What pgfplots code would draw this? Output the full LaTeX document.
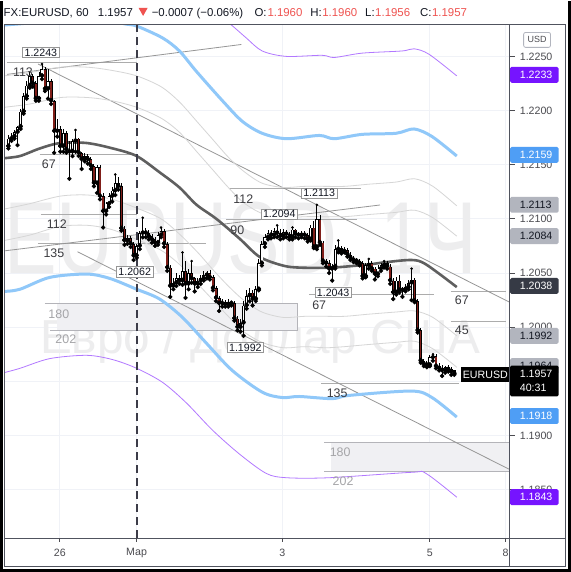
\documentclass[border=0pt]{standalone}
\usepackage{pgfplots}
\pgfplotsset{compat=1.18}
\usepackage{pgfplotstable}
\usepackage{fontspec}
\setmainfont{Liberation Sans}

\definecolor{frame}{RGB}{80,83,94}
\definecolor{gridc}{RGB}{240,242,247}
\definecolor{candred}{RGB}{128,30,25}
\definecolor{bandblue}{RGB}{144,200,249}
\definecolor{boxblue}{RGB}{79,158,245}
\definecolor{bandpurple}{RGB}{178,120,255}
\definecolor{boxpurple}{RGB}{118,20,255}
\definecolor{magrey}{RGB}{95,95,95}
\definecolor{bandgrey}{RGB}{214,214,214}
\definecolor{trendgrey}{RGB}{150,150,150}
\definecolor{levgrey}{RGB}{172,172,172}
\definecolor{zonefill}{RGB}{240,240,243}
\definecolor{zoneline}{RGB}{180,180,185}
\definecolor{dashc}{RGB}{60,60,72}
\definecolor{wmark}{RGB}{237,237,238}
\definecolor{txt}{RGB}{19,23,34}
\definecolor{axtxt}{RGB}{75,75,80}
\definecolor{numc}{RGB}{60,60,64}
\definecolor{zonetxt}{RGB}{165,165,168}
\definecolor{tvred}{RGB}{239,83,80}
\definecolor{lblgrey}{RGB}{178,181,190}
\definecolor{darkbox}{RGB}{54,58,69}

\newcommand\axfont{\fontsize{10.7}{12}\selectfont}
\newcommand\numfont{\fontsize{12.5}{14}\selectfont}
\newcommand\hdfont{\fontsize{11.5}{13}\selectfont}

\tikzset{lbl/.style={draw=trendgrey, fill=white, line width=0.6bp, inner xsep=2bp,
    inner ysep=1.3bp, font=\axfont, text=txt}}

% hourly candles, t = hours from 1 March 00:00
\pgfplotstableread{
t o h l c
-42 1.2167 1.2177 1.2165 1.2174
-41 1.2174 1.2179 1.2172 1.2176
-40 1.2176 1.2182 1.2174 1.2180
-39 1.2180 1.2186 1.2168 1.2185
-38 1.2185 1.2201 1.2183 1.2199
-37 1.2199 1.2216 1.2197 1.2213
-36 1.2213 1.2227 1.2211 1.2223
-35 1.2223 1.2236 1.2221 1.2232
-34 1.2232 1.2234 1.2222 1.2225
-33 1.2225 1.2227 1.2209 1.2211
-32 1.2211 1.2236 1.2209 1.2232
-31 1.2232 1.2243 1.2229 1.2238
-30 1.2238 1.2240 1.2218 1.2220
-29 1.2220 1.2238 1.2211 1.2227
-28 1.2227 1.2229 1.2206 1.2209
-27 1.2209 1.2210 1.2161 1.2181
-26 1.2181 1.2192 1.2176 1.2183
-25 1.2183 1.2186 1.2162 1.2167
-24 1.2167 1.2183 1.2162 1.2179
-23 1.2179 1.2181 1.2161 1.2164
-22 1.2164 1.2172 1.2137 1.2162
-21 1.2162 1.2174 1.2158 1.2172
-20 1.2172 1.2182 1.2162 1.2174
-19 1.2174 1.2175 1.2158 1.2161
-18 1.2161 1.2162 1.2146 1.2155
-17 1.2155 1.2161 1.2153 1.2158
-16 1.2158 1.2160 1.2151 1.2155
-15 1.2155 1.2157 1.2146 1.2149
-14 1.2149 1.2151 1.2130 1.2133
-13 1.2133 1.2150 1.2124 1.2148
-12 1.2148 1.2150 1.2118 1.2121
-11 1.2121 1.2124 1.2092 1.2107
-10 1.2107 1.2116 1.2104 1.2114
-9 1.2114 1.2124 1.2111 1.2121
-8 1.2121 1.2129 1.2116 1.2126
-7 1.2126 1.2141 1.2122 1.2133
-6 1.2133 1.2139 1.2127 1.2130
-5 1.2130 1.2133 1.2089 1.2091
-4 1.2091 1.2093 1.2076 1.2080
-3 1.2080 1.2085 1.2077 1.2082
-2 1.2082 1.2084 1.2074 1.2077
-1 1.2077 1.2079 1.2062 1.2066
0 1.2066 1.2077 1.2064 1.2075
1 1.2075 1.2089 1.2072 1.2087
2 1.2087 1.2101 1.2083 1.2089
3 1.2089 1.2092 1.2083 1.2087
4 1.2087 1.2090 1.2081 1.2084
5 1.2084 1.2086 1.2078 1.2081
6 1.2081 1.2083 1.2075 1.2078
7 1.2078 1.2088 1.2076 1.2085
8 1.2085 1.2092 1.2083 1.2089
9 1.2089 1.2091 1.2074 1.2077
10 1.2077 1.2079 1.2052 1.2055
11 1.2055 1.2057 1.2028 1.2038
12 1.2038 1.2045 1.2035 1.2041
13 1.2041 1.2050 1.2038 1.2045
14 1.2045 1.2048 1.2040 1.2043
15 1.2043 1.2069 1.2039 1.2052
16 1.2052 1.2061 1.2027 1.2040
17 1.2040 1.2054 1.2035 1.2050
18 1.2050 1.2061 1.2041 1.2045
19 1.2045 1.2046 1.2033 1.2040
20 1.2040 1.2045 1.2037 1.2043
21 1.2043 1.2048 1.2040 1.2045
22 1.2045 1.2052 1.2043 1.2048
23 1.2048 1.2052 1.2045 1.2050
24 1.2050 1.2053 1.2044 1.2046
25 1.2046 1.2048 1.2034 1.2036
26 1.2036 1.2038 1.2024 1.2027
27 1.2027 1.2029 1.2015 1.2022
28 1.2022 1.2026 1.2019 1.2023
29 1.2023 1.2025 1.2019 1.2021
30 1.2021 1.2026 1.2019 1.2023
31 1.2023 1.2024 1.2020 1.2022
32 1.2022 1.2024 1.2006 1.2008
33 1.2008 1.2010 1.1997 1.2000
34 1.2000 1.2008 1.1996 1.2004
35 1.2004 1.2024 1.1992 1.2020
36 1.2020 1.2034 1.2017 1.2029
37 1.2029 1.2036 1.2024 1.2032
38 1.2032 1.2034 1.2020 1.2026
39 1.2026 1.2038 1.2024 1.2035
40 1.2035 1.2063 1.2034 1.2059
41 1.2059 1.2080 1.2057 1.2077
42 1.2077 1.2086 1.2074 1.2083
43 1.2083 1.2090 1.2081 1.2087
44 1.2087 1.2090 1.2082 1.2085
45 1.2085 1.2092 1.2083 1.2089
46 1.2089 1.2094 1.2083 1.2087
47 1.2087 1.2091 1.2081 1.2084
48 1.2084 1.2091 1.2082 1.2088
49 1.2088 1.2090 1.2083 1.2086
50 1.2086 1.2088 1.2081 1.2083
51 1.2083 1.2092 1.2081 1.2090
52 1.2090 1.2091 1.2083 1.2086
53 1.2086 1.2088 1.2082 1.2085
54 1.2085 1.2089 1.2083 1.2087
55 1.2087 1.2089 1.2082 1.2085
56 1.2085 1.2087 1.2079 1.2081
57 1.2081 1.2094 1.2080 1.2092
58 1.2092 1.2098 1.2073 1.2074
59 1.2074 1.2113 1.2072 1.2100
60 1.2100 1.2104 1.2076 1.2078
61 1.2078 1.2080 1.2059 1.2061
62 1.2061 1.2063 1.2056 1.2059
63 1.2059 1.2062 1.2050 1.2054
64 1.2054 1.2058 1.2043 1.2056
65 1.2056 1.2076 1.2054 1.2072
66 1.2072 1.2080 1.2069 1.2073
67 1.2073 1.2075 1.2068 1.2070
68 1.2070 1.2074 1.2069 1.2071
69 1.2071 1.2073 1.2065 1.2067
70 1.2067 1.2069 1.2062 1.2064
71 1.2064 1.2066 1.2060 1.2062
72 1.2062 1.2064 1.2059 1.2061
73 1.2061 1.2063 1.2057 1.2059
74 1.2059 1.2061 1.2045 1.2047
75 1.2047 1.2059 1.2046 1.2057
76 1.2057 1.2063 1.2054 1.2059
77 1.2059 1.2061 1.2052 1.2054
78 1.2054 1.2056 1.2044 1.2049
79 1.2049 1.2057 1.2047 1.2054
80 1.2054 1.2059 1.2052 1.2057
81 1.2057 1.2061 1.2055 1.2059
82 1.2059 1.2061 1.2054 1.2056
83 1.2056 1.2058 1.2040 1.2043
84 1.2043 1.2045 1.2026 1.2032
85 1.2032 1.2046 1.2030 1.2043
86 1.2043 1.2048 1.2032 1.2034
87 1.2034 1.2037 1.2028 1.2035
88 1.2035 1.2040 1.2033 1.2037
89 1.2037 1.2044 1.2035 1.2041
90 1.2041 1.2054 1.2025 1.2044
91 1.2044 1.2045 1.2023 1.2024
92 1.2024 1.2026 1.1995 1.1997
93 1.1997 1.1999 1.1967 1.1969
94 1.1969 1.1971 1.1964 1.1966
95 1.1966 1.1969 1.1963 1.1965
96 1.1965 1.1974 1.1964 1.1972
97 1.1972 1.1975 1.1969 1.1973
98 1.1973 1.1975 1.1962 1.1964
99 1.1964 1.1967 1.1960 1.1962
100 1.1962 1.1965 1.1955 1.1960
101 1.1960 1.1964 1.1958 1.1963
102 1.1963 1.1965 1.1959 1.1961
103 1.1961 1.1963 1.1956 1.1959
104 1.1960 1.1960 1.1956 1.1957
}\candles

% fractal points
\pgfplotstableread{
t p
-39 1.2168
-32 1.2209
-31 1.2243
-27 1.2161
-22 1.2137
-20 1.2182
-18 1.2146
-11 1.2092
-7 1.2141
-1 1.2062
2 1.2101
6 1.2075
8 1.2092
11 1.2028
15 1.2069
16 1.2027
18 1.2061
19 1.2033
27 1.2015
35 1.1992
38 1.2020
46 1.2094
51 1.2092
58 1.2073
59 1.2113
64 1.2043
66 1.2080
74 1.2045
76 1.2063
78 1.2044
81 1.2061
84 1.2026
90 1.2025
90 1.2054
95 1.1963
97 1.1975
100 1.1955
}\fractals

\begin{document}
\begin{tikzpicture}
\begin{scope}[x=1bp,y=-1bp]
\useasboundingbox (0,0) rectangle (572,572);
\fill[white] (0,0) rectangle (572,572);
% grid
\foreach \x in {60,137,283,431,507} \draw[gridc, line width=0.8bp] (\x,23) -- (\x,538);
\foreach \y in {55,109.3,163.6,217.9,272.2,326.5,380.8,435.1,489.4} \draw[gridc, line width=0.8bp] (4,\y) -- (511,\y);
\node[anchor=base west, inner sep=0, text=wmark] at (4,273)
  {\fontsize{103}{103}\selectfont\scalebox{0.77}[1]{EURUSD, 1Ч}};
\node[anchor=base west, inner sep=0, text=wmark] at (40,353)
  {\fontsize{48}{48}\selectfont Евро / Доллар США};
\end{scope}

\begin{axis}[
  at={(4bp,-538bp)}, anchor=south west,
  scale only axis, width=507bp, height=515bp,
  xmin=-43.43, xmax=122.12, ymin=1.180525, ymax=1.22795,
  axis line style={draw=frame, line width=0.8bp},
  xtick=\empty, ytick=\empty,
]
% zones
\addplot[fill=zonefill, draw=none, forget plot] coordinates
  {(-26.12,1.20216) (52.57,1.20216) (52.57,1.19972) (-26.12,1.19972)} -- cycle;
\addplot[zoneline, line width=0.8bp] coordinates {(-30.04,1.20216) (52.57,1.20216) (52.57,1.19972) (-28.41,1.19972)};
\addplot[fill=zonefill, draw=none, forget plot] coordinates
  {(63.67,1.18936) (122.12,1.18936) (122.12,1.18669) (63.67,1.18669)} -- cycle;
\addplot[zoneline, line width=0.8bp] coordinates {(61.39,1.18936) (122.12,1.18936)};
\addplot[zoneline, line width=0.8bp] coordinates {(61.39,1.18669) (122.12,1.18669)};

% level segments
\addplot[levgrey, line width=0.9bp] coordinates {(-42.45,1.22445) (0,1.22445)};
\addplot[levgrey, line width=0.9bp] coordinates {(-31.67,1.21593) (0,1.21593)};
\addplot[levgrey, line width=0.9bp] coordinates {(-31.35,1.21045) (0,1.21045)};
\addplot[levgrey, line width=0.9bp] coordinates {(-32.33,1.20769) (22.86,1.20769)};
\addplot[levgrey, line width=0.9bp] coordinates {(30.37,1.21280) (73.47,1.21280)};
\addplot[levgrey, line width=0.9bp] coordinates {(29.39,1.20999) (72.16,1.20999)};
\addplot[levgrey, line width=0.9bp] coordinates {(56.49,1.20299) (97.31,1.20299)};
\addplot[levgrey, line width=0.9bp] coordinates {(102.86,1.20327) (120.82,1.20327)};
\addplot[levgrey, line width=0.9bp] coordinates {(102.86,1.20051) (120.82,1.20051)};
\addplot[levgrey, line width=0.9bp] coordinates {(60.41,1.19484) (105.47,1.19484)};

% trend lines
\addplot[trendgrey, line width=0.8bp] coordinates {(-32.3,1.2243) (122.12,1.2023)};
\addplot[trendgrey, line width=0.8bp] coordinates {(-42.45,1.22334) (34.29,1.22610)};
\addplot[trendgrey, line width=0.8bp] coordinates {(-43.43,1.20704) (79.67,1.21128)};
\addplot[trendgrey, line width=0.8bp] coordinates {(-19.35,1.20696) (122.12,1.18686)};

% inner bands
\addplot[bandgrey, line width=0.8bp, smooth] coordinates {(-43.4,1.2232) (-35,1.2235) (-25,1.2240) (-16,1.2240) (-8,1.2237) (0,1.2232) (8,1.2222) (14,1.2208) (20,1.2189) (25,1.2173) (30,1.2157) (35,1.2144) (41,1.2133) (48,1.2129) (55,1.2130) (62,1.2130) (68,1.2130) (76,1.2132) (85,1.2134) (91,1.2137) (97,1.2130) (104.8,1.2112)};
\addplot[bandgrey, line width=0.8bp, smooth] coordinates {(-43.4,1.2203) (-35,1.2206) (-25,1.2212) (-16,1.2212) (-8,1.2209) (0,1.2203) (8,1.2193) (14,1.2180) (20,1.2161) (25,1.2145) (30,1.2129) (35,1.2115) (41,1.2105) (48,1.2101) (55,1.2102) (62,1.2102) (68,1.2102) (76,1.2104) (85,1.2106) (91,1.2108) (97,1.2101) (104.8,1.2084)};
\addplot[bandgrey, line width=0.8bp, smooth] coordinates {(-43.4,1.2109) (-35,1.2114) (-25,1.2121) (-16,1.2122) (-8,1.2118) (0,1.2110) (8,1.2100) (14,1.2086) (20,1.2069) (25,1.2053) (30,1.2038) (35,1.2025) (41,1.2014) (48,1.2009) (55,1.2010) (62,1.2010) (68,1.2010) (76,1.2012) (85,1.2014) (91,1.2015) (97,1.2009) (104.8,1.1992)};
\addplot[bandgrey, line width=0.8bp, smooth] coordinates {(-43.4,1.2080) (-35,1.2085) (-25,1.2093) (-16,1.2094) (-8,1.2090) (0,1.2081) (8,1.2071) (14,1.2058) (20,1.2040) (25,1.2025) (30,1.2010) (35,1.1996) (41,1.1986) (48,1.1981) (55,1.1982) (62,1.1981) (68,1.1982) (76,1.1984) (85,1.1986) (91,1.1987) (97,1.1980) (104.8,1.1963)};

% outer bands
\addplot[bandpurple, line width=0.8bp, smooth] coordinates {(25.5,1.2291) (31.0,1.2279) (35.9,1.2267) (41.1,1.2255) (49.0,1.2250) (60.7,1.2251) (64.7,1.2249) (73.8,1.2253) (86.9,1.2255) (90.8,1.2257) (95.7,1.2252) (104.8,1.2232)};
\addplot[bandpurple, line width=0.8bp, smooth] coordinates {(-43.4,1.1958) (-38.2,1.1962) (-28.4,1.1971) (-16.3,1.1974) (-7.8,1.1970) (0,1.1962) (8.5,1.1949) (16.3,1.1930) (24.8,1.1905) (33.6,1.1883) (42.4,1.1865) (49,1.1861) (63,1.1861) (90.1,1.1866) (94.7,1.1865) (104.8,1.1843)};
\addplot[bandblue, line width=3bp, smooth] coordinates {(-43.4,1.2279) (-34.9,1.2281) (-25.1,1.2286) (-12.1,1.2285) (-3.9,1.2280) (0,1.2278) (8.5,1.2267) (14,1.2255) (19.6,1.2236) (28.1,1.2209) (34.6,1.2190) (41.1,1.2179) (49,1.2174) (59.8,1.2177) (64.7,1.2174) (73.8,1.2178) (84.9,1.2179) (90.8,1.2183) (96.7,1.2176) (104.8,1.2158)};
\addplot[bandblue, line width=3bp, smooth] coordinates {(-43.4,1.2033) (-38.2,1.2035) (-28.4,1.2046) (-16.3,1.2049) (-8.8,1.2045) (0,1.2035) (7.5,1.2026) (15,1.2009) (22.9,1.1985) (31.3,1.1960) (41.1,1.1940) (47.7,1.1935) (53.2,1.1936) (64,1.1934) (69.6,1.1937) (90.1,1.1941) (96.7,1.1935) (104.8,1.1917)};

% moving average
\addplot[magrey, line width=2.6bp, smooth] coordinates {(-43.4,1.2156) (-38.2,1.2158) (-31.7,1.2165) (-25.1,1.2170) (-16.3,1.2170) (-7.8,1.2165) (0,1.2158) (7.5,1.2143) (14,1.2129) (19.6,1.2113) (26.1,1.2100) (33.6,1.2082) (40.2,1.2065) (47.7,1.2057) (53.2,1.2055) (64,1.2055) (76.1,1.2058) (81.6,1.2060) (90.1,1.2062) (94.7,1.2058) (104.8,1.2037)};

% session break
\addplot[dashc, line width=1.8bp, dash pattern=on 8bp off 5bp] coordinates {(0,1.22795) (0,1.180525)};

% candles: wicks, body outline, body fill
\addplot[only marks, mark=none, forget plot,
  error bars/.cd, y dir=plus, y explicit, error mark=none,
  error bar style={draw=black, solid, line width=0.8bp}]
  table[x=t, y=l, y error plus expr=\thisrow{h}-\thisrow{l}] {\candles};
\addplot[only marks, mark=none, forget plot,
  error bars/.cd, y dir=plus, y explicit, error mark=none,
  error bar style={draw=black, solid, line width=3.0bp}]
  table[x=t, y expr={min(\thisrow{o},\thisrow{c})},
    y error plus expr={max(abs(\thisrow{c}-\thisrow{o}),0.0001)}] {\candles};
\addplot[only marks, mark=none, forget plot,
  x filter/.expression={\thisrow{c}<\thisrow{o} ? nan : x},
  error bars/.cd, y dir=plus, y explicit, error mark=none,
  error bar style={draw=white, solid, line width=1.4bp}]
  table[x=t, y expr={min(\thisrow{o},\thisrow{c})+0.00007},
    y error plus expr={max(abs(\thisrow{c}-\thisrow{o})-0.00014,0)}] {\candles};
\addplot[only marks, mark=none, forget plot,
  x filter/.expression={\thisrow{c}<\thisrow{o} ? x : nan},
  error bars/.cd, y dir=plus, y explicit, error mark=none,
  error bar style={draw=candred, solid, line width=1.4bp}]
  table[x=t, y expr={min(\thisrow{o},\thisrow{c})+0.00007},
    y error plus expr={max(abs(\thisrow{c}-\thisrow{o})-0.00014,0)}] {\candles};
\addplot[only marks, mark=*, mark size=1.1bp, black] table[x=t, y=p] {\fractals};

% annotations
\node[font=\numfont, text=numc] at (axis cs:-37.22,1.22353) {113};
\node[font=\numfont, text=numc] at (axis cs:-28.73,1.21506) {67};
\node[font=\numfont, text=numc] at (axis cs:-26.12,1.20953) {112};
\node[font=\numfont, text=numc] at (axis cs:-27.10,1.20686) {135};
\node[font=\numfont, text=numc] at (axis cs:34.94,1.21183) {112};
\node[font=\numfont, text=numc] at (axis cs:32.98,1.20898) {90};
\node[font=\numfont, text=numc] at (axis cs:59.76,1.20207) {67};
\node[font=\numfont, text=numc] at (axis cs:106.45,1.20253) {67};
\node[font=\numfont, text=numc] at (axis cs:106.45,1.19968) {45};
\node[font=\numfont, text=numc] at (axis cs:65.63,1.19388) {135};
\node[font=\numfont, text=zonetxt] at (axis cs:-25.47,1.20124) {180};
\node[font=\numfont, text=zonetxt] at (axis cs:-23.18,1.19885) {202};
\node[font=\numfont, text=zonetxt] at (axis cs:66.61,1.18844) {180};
\node[font=\numfont, text=zonetxt] at (axis cs:67.59,1.18577) {202};

\node[lbl] at (axis cs:-31.35,1.22537) {1.2243};
\node[lbl] at (axis cs:-0.65,1.20511) {1.2062};
\node[lbl] at (axis cs:35.59,1.19811) {1.1992};
\node[lbl] at (axis cs:46.69,1.21045) {1.2094};
\node[lbl] at (axis cs:59.76,1.21238) {1.2113};
\node[lbl] at (axis cs:64.33,1.20318) {1.2043};
\end{axis}

\newcommand\pbox[4]{%
  \fill[#2, rounded corners=1.5bp] (511.5,#1-8) rectangle (560,#1+8);
  \node[anchor=west, inner sep=0, font=\axfont, text=#3] at (521,#1) {#4};}

\begin{scope}[x=1bp,y=-1bp]
% frames
\draw[frame, line width=0.8bp] (4,23) rectangle (567,566.5);
\draw[frame, line width=0.8bp] (511,23) -- (511,566.5);
\draw[frame, line width=0.8bp] (4,538) -- (567,538);
\draw[black, line width=3bp] (1.5,0) -- (1.5,570.5) -- (570.5,570.5) -- (570.5,0);

% price scale
\foreach \y/\t in {55/1.2250, 109.3/1.2200, 163.6/1.2150, 217.9/1.2100, 272.2/1.2050,
    326.5/1.2000, 380.8/1.1950, 435.1/1.1900, 489.4/1.1850} {
  \draw[axtxt, line width=0.8bp] (511,\y) -- (516,\y);
  \node[anchor=west, inner sep=0, font=\axfont, text=axtxt] at (521,\y) {\t};
}
\draw[lblgrey, rounded corners=2bp, line width=0.8bp] (525,31) rectangle (552,46);
\node[font=\fontsize{9}{10}\selectfont, text=axtxt] at (538.5,38.5) {USD};

\pbox{73.5}{boxpurple}{white}{1.2233}
\pbox{153.8}{boxblue}{white}{1.2159}
\pbox{203.8}{lblgrey}{txt}{1.2113}
\pbox{235.3}{lblgrey}{txt}{1.2084}
\pbox{285.2}{darkbox}{white}{1.2038}
\pbox{335.2}{lblgrey}{txt}{1.1992}
\pbox{365.6}{lblgrey}{txt}{1.1964}
\fill[black, rounded corners=1.5bp] (511.5,365) rectangle (560,396);
\node[anchor=west, inner sep=0, font=\axfont, text=white] at (521,373.2) {1.1957};
\node[anchor=west, inner sep=0, font=\axfont, text=white] at (521,387.5) {40:31};
\pbox{415.6}{boxblue}{white}{1.1918}
\pbox{497}{boxpurple}{white}{1.1843}

\fill[black] (462.5,366.5) rectangle (510.6,381.5);
\node[font=\axfont, text=white] at (486.6,374) {EURUSD};

% time scale
\foreach \x/\t in {60/26, 137/Мар, 283/3, 431/5, 507/8} {
  \draw[axtxt, line width=0.8bp] (\x,538) -- (\x,542);
  \node[font=\axfont, text=axtxt] at (\x,553) {\t};
}

% header
\node[anchor=base west, inner sep=0, font=\hdfont, text=txt] at (3.5,15) {FX:EURUSD, 60};
\node[anchor=base west, inner sep=0, font=\hdfont, text=txt] at (98,15) {1.1957};
\fill[tvred] (139,6.5) -- (148,6.5) -- (143.5,14.5) -- cycle;
\node[anchor=base west, inner sep=0, font=\hdfont, text=txt] at (152,15) {−0.0007 (−0.06\%)};
\node[anchor=base west, inner sep=0, font=\hdfont, text=txt] at (255,15) {O:};
\node[anchor=base west, inner sep=0, font=\hdfont, text=tvred] at (268,15) {1.1960};
\node[anchor=base west, inner sep=0, font=\hdfont, text=txt] at (311,15) {H:};
\node[anchor=base west, inner sep=0, font=\hdfont, text=tvred] at (323,15) {1.1960};
\node[anchor=base west, inner sep=0, font=\hdfont, text=txt] at (366,15) {L:};
\node[anchor=base west, inner sep=0, font=\hdfont, text=tvred] at (376,15) {1.1956};
\node[anchor=base west, inner sep=0, font=\hdfont, text=txt] at (421,15) {C:};
\node[anchor=base west, inner sep=0, font=\hdfont, text=tvred] at (433,15) {1.1957};
\end{scope}
\end{tikzpicture}
\end{document}
